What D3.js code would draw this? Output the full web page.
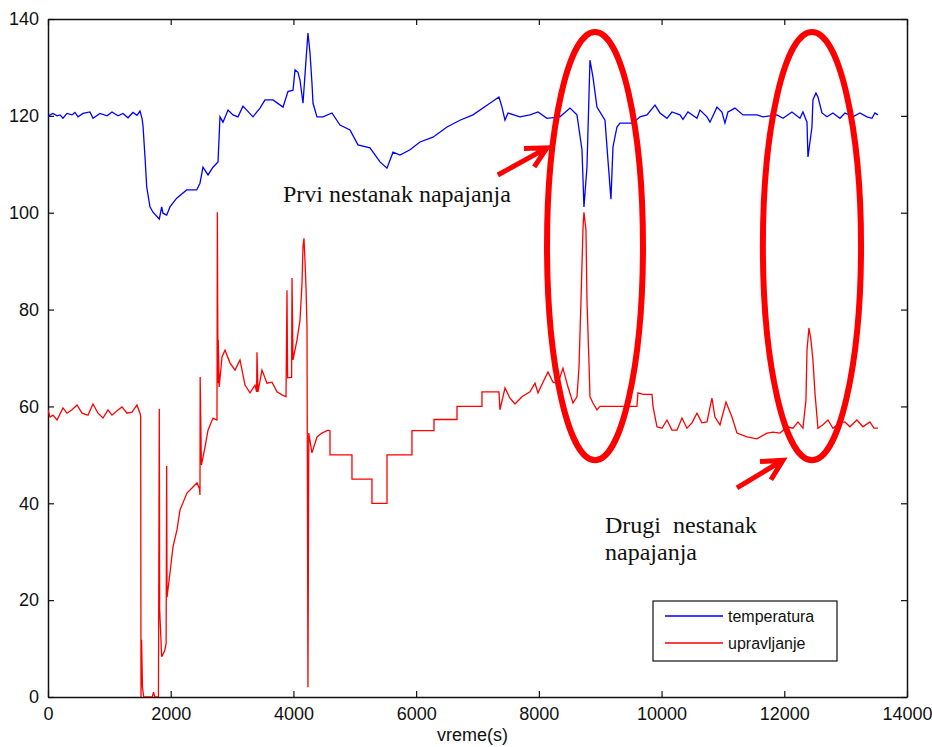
<!DOCTYPE html>
<html>
<head>
<meta charset="utf-8">
<script src="https://cdn.jsdelivr.net/npm/d3@7"></script>
<style>
  body { margin: 0; background: #fff; }
  .axis text { font-family: "Liberation Sans", Arial, sans-serif; font-size: 18px; fill: #111; }
  .note { font-family: "Liberation Serif", "Times New Roman", serif; font-size: 24px; fill: #111; white-space: pre; }
</style>
</head>
<body>
<script>

//Tick values of both axes
var xTicks = [0, 2000, 4000, 6000, 8000, 10000, 12000, 14000];
var yTicks = [0, 20, 40, 60, 80, 100, 120, 140];

//temperatura : [time (s), value]
var temperatura = [
  [0,119.8],[33,120.2],[81,120.5],[147,120.0],[196,120.2],[244,119.5],[310,120.5],[391,120.2],
  [440,120.7],[489,119.8],[570,120.5],[684,120.8],[733,119.5],[847,120.5],[962,120.0],[1043,120.8],
  [1141,120.0],[1222,120.5],[1304,119.6],[1385,120.7],[1450,120.1],[1499,121.0],[1532,119.5],
  [1548,118],[1581,111.5],[1609,105.3],[1662,101.2],[1711,100.1],[1814,98.7],[1853,101.2],[1874,99.9],
  [1934,99.5],[1988,101.2],[2097,103],[2260,104.7],[2423,104.7],[2477,106.1],[2526,109.4],[2608,107.8],
  [2689,109.4],[2771,110.5],[2803,119.8],[2852,118.7],[2934,121.2],[3015,120.2],[3096,119.8],[3178,122],
  [3341,119.8],[3455,121.6],[3537,123.3],[3667,123.3],[3830,121.8],[3911,125],[3993,125.3],[4026,129.5],
  [4074,129],[4107,127.4],[4156,122.6],[4205,131.5],[4237,137.1],[4270,133],[4302,126.8],[4319,122.6],
  [4384,119.8],[4482,119.8],[4628,120.6],[4759,118.1],[4922,117.1],[5052,114],[5248,113.4],[5411,110.5],
  [5525,109.2],[5623,112.5],[5737,111.9],[5900,113],[6063,114.6],[6274,115.6],[6503,117.7],[6714,119.1],
  [6926,120.2],[7154,122.2],[7350,123.9],[7399,121.8],[7448,119.1],[7497,120.6],[7692,119.8],[7855,120.2],
  [7986,120.8],[8132,119.5],[8344,119.8],[8507,121.6],[8621,120.2],[8703,113],[8735,101.2],[8784,109.4],
  [8833,131.5],[8882,128],[8947,121.8],[9045,119.8],[9078,119.1],[9126,110.9],[9175,102.8],[9208,113.6],
  [9273,117.7],[9322,118.5],[9436,118.5],[9534,118.5],[9648,119.8],[9762,120.2],[9893,122.2],[9974,120.6],
  [10088,119.5],[10169,120.8],[10300,120.2],[10349,119.3],[10430,120.8],[10577,119.5],[10626,121.2],
  [10740,119.8],[10789,118.7],[10903,121.8],[10984,120.8],[11033,118.5],[11082,120.8],[11196,121.6],
  [11327,120.2],[11555,120.2],[11652,119.8],[11881,120.2],[11979,119.5],[12125,120.8],[12256,119.5],
  [12304,120.8],[12370,118.7],[12386,111.5],[12451,117.7],[12467,123.3],[12516,124.7],[12549,123.9],
  [12614,120.6],[12696,119.8],[12793,120.6],[12907,119.5],[12989,120.6],[13119,119.8],[13233,120.6],
  [13347,119.8],[13429,119.5],[13478,120.6],[13527,120.2]
];

//upravljanje : [time (s), value]
var upravljanje = [
  [0,59.3],[33,57.8],[81,58.2],[147,57.2],[244,59.7],[310,58.6],[391,59.3],[473,60.3],[554,58.6],
  [652,58.2],[733,60.5],[815,58.6],[896,57.6],[978,59.3],[1043,58.2],[1125,59.1],[1206,59.9],[1287,58.6],
  [1369,58.8],[1450,60.3],[1499,58.6],[1510,58],[1516,0],[1525,11.8],[1540,2],[1560,0],[1700,0],[1720,1],
  [1740,0],[1800,0],[1814,59.5],[1820,18],[1853,8.3],[1900,9.5],[1925,11],[1934,47.7],[1940,20.6],
  [1988,25.6],[2037,31],[2102,34.5],[2151,38.6],[2265,42.1],[2428,44.2],[2470,43],[2477,41.7],[2480,66.1],
  [2500,47.9],[2559,51.6],[2608,55.1],[2689,57.6],[2754,57.2],[2760,100.1],[2771,64.8],[2775,73.7],
  [2790,64],[2836,70.2],[2885,71.6],[2966,69],[3048,67.5],[3129,69.6],[3211,64.4],[3292,62.8],[3374,64.4],
  [3400,63],[3406,71.2],[3422,63],[3488,67.5],[3569,64.8],[3651,65],[3732,63],[3814,62.4],[3879,62],
  [3895,84],[3905,65.9],[3970,66],[3977,86.5],[3993,69.6],[4058,73.7],[4107,77.8],[4140,85.5],[4156,93],
  [4172,94.7],[4188,90.2],[4205,84.7],[4221,76.4],[4237,2],[4250,54.5],[4302,50.4],[4384,53.7],
  [4465,54.5],[4563,55.1],[4596,55],[4596,50],[4954,50],[4954,45],[5280,45],[5280,40],[5525,40],
  [5525,50],[5932,50],[5932,55],[6291,55],[6291,57.3],[6666,57.3],[6666,60],[7073,60],[7073,63],
  [7350,63],[7366,59.3],[7448,63.8],[7529,61.7],[7611,60.5],[7725,62],[7855,63],[7937,64.8],[7986,62.8],
  [8067,65],[8149,67.1],[8230,65],[8312,64.8],[8393,67.9],[8475,64],[8556,60.7],[8621,62],[8654,68.1],
  [8687,82],[8720,97],[8735,100.1],[8768,96.4],[8784,82],[8817,69],[8833,62],[8882,60.7],[8947,59.3],
  [8996,60],[9599,60],[9615,62.8],[9700,62.5],[9844,62.5],[9860,60],[9925,55.8],[10007,55.5],[10088,57.2],
  [10169,55.1],[10251,55.1],[10332,57.6],[10414,55.5],[10495,56.6],[10577,58.6],[10658,56.6],[10740,56.8],
  [10821,61.7],[10870,57.8],[10952,56.2],[11050,60.9],[11147,57.8],[11229,54.5],[11392,53.7],[11555,53.3],
  [11718,54.5],[11815,54.7],[11930,54.5],[12044,55.8],[12142,55.5],[12223,56.8],[12304,55.5],[12353,61.3],
  [12370,71.6],[12402,76.2],[12435,73.7],[12467,69.6],[12500,62.8],[12549,55.5],[12630,56.2],[12712,57.2],
  [12793,55.5],[12907,56.6],[12989,56.8],[13070,55.8],[13184,57.2],[13282,55.8],[13396,56.8],[13461,55.5],
  [13527,55.5]
];

//Circled outages : [center time, center value, half width (s), half height]
var outages = [[8915, 93.1, 782, 44.2], [12451, 93.1, 800, 44.2]];

//Arrows : [from time, from value, to time, to value]
var arrows = [[7332, 107.8, 8132, 113.4], [11229, 43.2, 11978, 48.9]];

//Notes : [time, value, text]
var notes = [
  [3830, 102.2, "Prvi nestanak napajanja"],
  [9078, 33.9, "Drugi  nestanak"],
  [9078, 28.3, "napajanja"]
];

var seriesNames = ["temperatura", "upravljanje"];
var seriesColors = ["#0000ff", "#ff0000"];

var W = 932, H = 747;
var margin = {left: 48, right: 25, top: 19, bottom: 50};

var svg = d3.select("body")
    .append("svg")
    .attr("width", W)
    .attr("height", H);

var xScale = d3.scaleLinear()
    .domain([0, 14000])
    .range([margin.left, W - margin.right]);

var yScale = d3.scaleLinear()
    .domain([0, 140])
    .range([H - margin.bottom, margin.top]);

var x0 = xScale.range()[0], x1 = xScale.range()[1];
var y0 = yScale.range()[0], y1 = yScale.range()[1];

svg.append("clipPath").attr("id", "plot")
  .append("rect")
    .attr("x", x0).attr("y", y1)
    .attr("width", x1 - x0).attr("height", y0 - y1);

//Axes, inward ticks like matlab
var xAxis = d3.axisBottom(xScale).tickValues(xTicks).tickSizeInner(-6).tickSizeOuter(0).tickPadding(10).tickFormat(d3.format("d"));
var yAxis = d3.axisLeft(yScale).tickValues(yTicks).tickSizeInner(-6).tickSizeOuter(0).tickPadding(9);

svg.append("g")
    .attr("class", "x axis")
    .attr("transform", "translate(0," + y0 + ")")
    .call(xAxis);

svg.append("g")
    .attr("class", "y axis")
    .attr("transform", "translate(" + x0 + ",0)")
    .call(yAxis);

//top and right ticks
svg.append("g")
    .attr("class", "axis")
    .attr("transform", "translate(0," + y1 + ")")
    .call(d3.axisTop(xScale).tickValues(xTicks).tickSizeInner(-6).tickSizeOuter(0).tickFormat(""));

svg.append("g")
    .attr("class", "axis")
    .attr("transform", "translate(" + x1 + ",0)")
    .call(d3.axisRight(yScale).tickValues(yTicks).tickSizeInner(-6).tickSizeOuter(0).tickFormat(""));

svg.selectAll(".axis path").attr("stroke", "#111").attr("stroke-width", 1.5);
svg.selectAll(".axis line").attr("stroke", "#111").attr("stroke-width", 1.2);

//Label for X-axis
svg.append("text")
    .attr("x", (x0 + x1) / 2 - 5)
    .attr("y", 741)
    .style("text-anchor", "middle")
    .style("font-family", "Liberation Sans, Arial, sans-serif")
    .attr("font-size", "18px")
    .attr("fill", "#111")
    .text("vreme(s)");

//Lines
var line = d3.line()
    .x(function(d) { return xScale(d[0]); })
    .y(function(d) { return yScale(d[1]); });

var lines = svg.append("g").attr("clip-path", "url(#plot)");

lines.append("path")
    .datum(upravljanje)
    .attr("fill", "none")
    .attr("stroke", seriesColors[1])
    .attr("stroke-width", 1.3)
    .attr("d", line);

lines.append("path")
    .datum(temperatura)
    .attr("fill", "none")
    .attr("stroke", seriesColors[0])
    .attr("stroke-width", 1.3)
    .attr("d", line);

//Red ellipses round the outages
svg.selectAll(".outage")
    .data(outages)
    .enter().append("ellipse")
    .attr("class", "outage")
    .attr("cx", function(d) { return xScale(d[0]); })
    .attr("cy", function(d) { return yScale(d[1]); })
    .attr("rx", function(d) { return xScale(d[2]) - xScale(0); })
    .attr("ry", function(d) { return yScale(0) - yScale(d[3]); })
    .attr("fill", "none")
    .attr("stroke", "#ff0000")
    .attr("stroke-width", 6);

//Arrows
arrows.forEach(function(a) {
    var ax = xScale(a[0]), ay = yScale(a[1]);
    var bx = xScale(a[2]), by = yScale(a[3]);
    var ang = Math.atan2(ay - by, ax - bx);
    var len = 23, spread = 0.48;
    var path = "M" + ax + "," + ay + "L" + bx + "," + by +
        "M" + (bx + len * Math.cos(ang + spread)) + "," + (by + len * Math.sin(ang + spread)) +
        "L" + bx + "," + by +
        "L" + (bx + len * Math.cos(ang - spread)) + "," + (by + len * Math.sin(ang - spread));
    svg.append("path")
        .attr("d", path)
        .attr("fill", "none")
        .attr("stroke", "#ff0000")
        .attr("stroke-width", 5)
        .attr("stroke-linejoin", "miter");
});

//Notes
svg.selectAll(".note")
    .data(notes)
    .enter().append("text")
    .attr("class", "note")
    .attr("x", function(d) { return xScale(d[0]); })
    .attr("y", function(d) { return yScale(d[1]); })
    .text(function(d) { return d[2]; });

//Legend
var lg = svg.append("g").attr("transform", "translate(653,601)");

lg.append("rect")
    .attr("width", 184)
    .attr("height", 60)
    .attr("fill", "#fff")
    .attr("stroke", "#111")
    .attr("stroke-width", 1.2);

seriesNames.forEach(function(name, i) {
    lg.append("line")
        .attr("x1", 12).attr("x2", 70)
        .attr("y1", 15 + i * 27).attr("y2", 15 + i * 27)
        .attr("stroke", seriesColors[i])
        .attr("stroke-width", 1.3);
    lg.append("text")
        .attr("x", 75)
        .attr("y", 21 + i * 27)
        .style("font-family", "Liberation Sans, Arial, sans-serif")
        .attr("font-size", "16px")
        .attr("fill", "#111")
        .text(name);
});

</script>
</body>
</html>
